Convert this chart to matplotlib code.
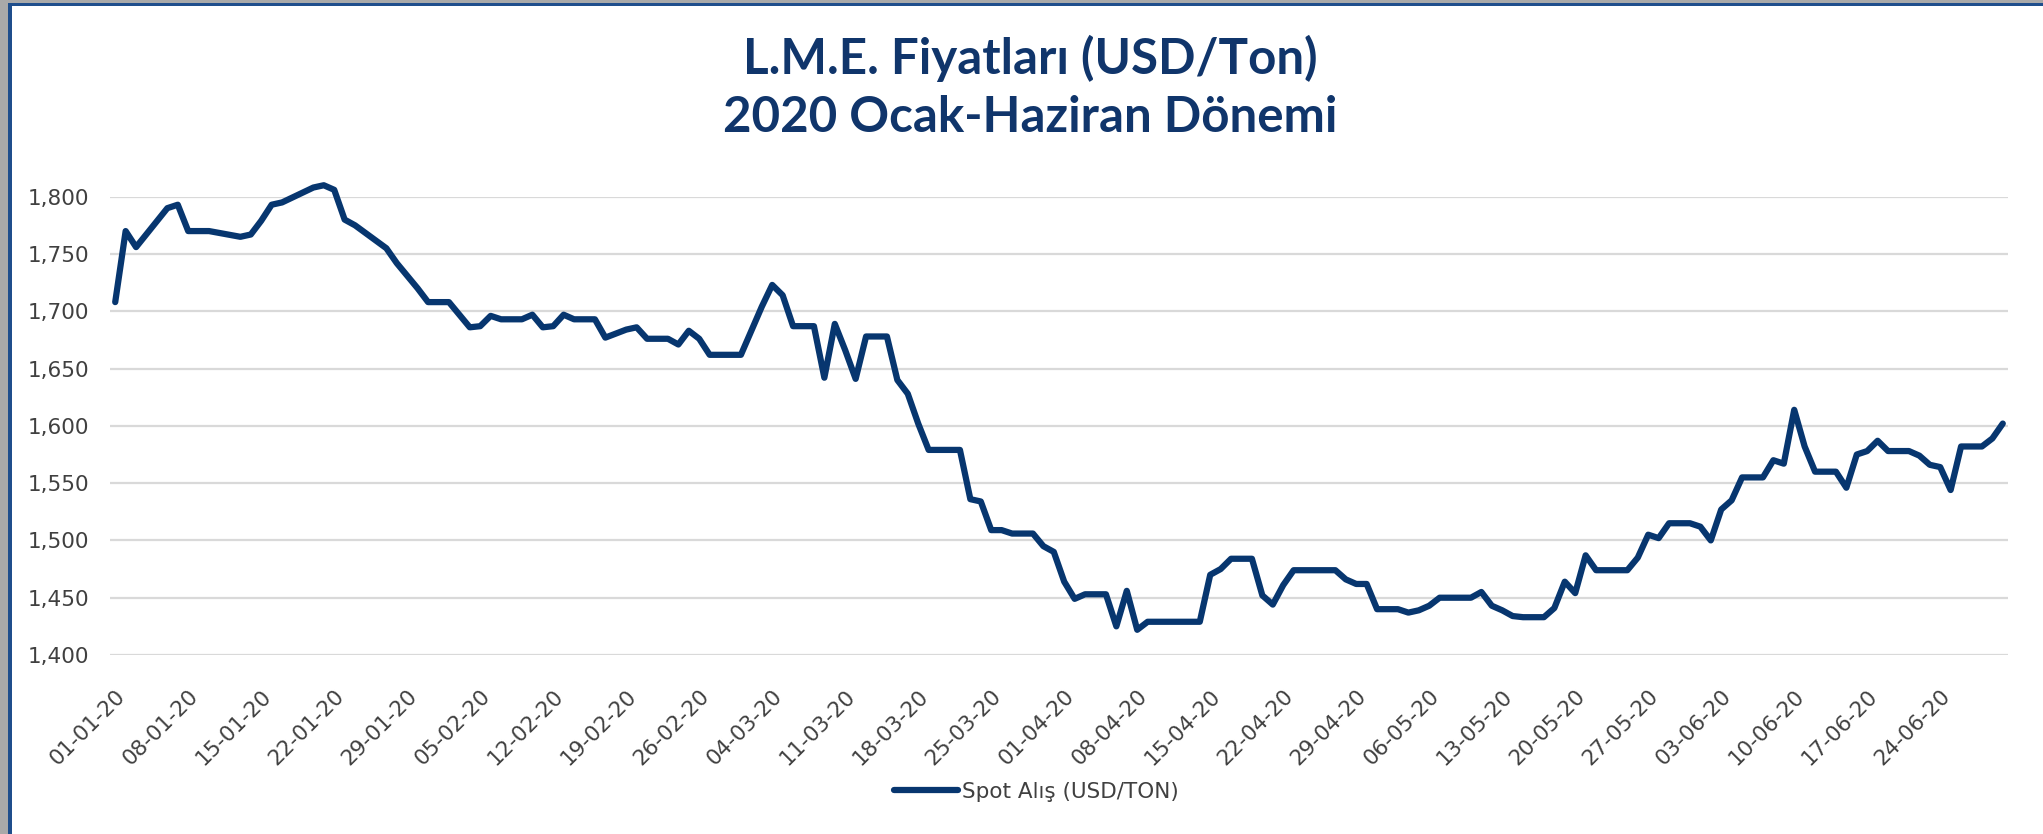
import matplotlib
matplotlib.use("Agg")
import matplotlib.pyplot as plt
import matplotlib.dates as mdates
from matplotlib.patches import Rectangle
import pandas as pd

# ---- data ----
dates = [
    "2020-01-01", "2020-01-02", "2020-01-03", "2020-01-06", "2020-01-07", "2020-01-08",
    "2020-01-10", "2020-01-13", "2020-01-14", "2020-01-15", "2020-01-16", "2020-01-17",
    "2020-01-20", "2020-01-21", "2020-01-22", "2020-01-23", "2020-01-24", "2020-01-27",
    "2020-01-28", "2020-01-29", "2020-01-30", "2020-01-31",
    "2020-02-02", "2020-02-04", "2020-02-05", "2020-02-06", "2020-02-07", "2020-02-09",
    "2020-02-10", "2020-02-11", "2020-02-12", "2020-02-13", "2020-02-14", "2020-02-16",
    "2020-02-17", "2020-02-19", "2020-02-20", "2020-02-21", "2020-02-23", "2020-02-24",
    "2020-02-25", "2020-02-26", "2020-02-27",
    "2020-03-01", "2020-03-03", "2020-03-04", "2020-03-05", "2020-03-06", "2020-03-08",
    "2020-03-09", "2020-03-10", "2020-03-11", "2020-03-12", "2020-03-13", "2020-03-15",
    "2020-03-16", "2020-03-17", "2020-03-18", "2020-03-19", "2020-03-22", "2020-03-23",
    "2020-03-24", "2020-03-25", "2020-03-26", "2020-03-27", "2020-03-29", "2020-03-30",
    "2020-03-31",
    "2020-04-01", "2020-04-02", "2020-04-03", "2020-04-05", "2020-04-06", "2020-04-07",
    "2020-04-08", "2020-04-09", "2020-04-14", "2020-04-15", "2020-04-16", "2020-04-17",
    "2020-04-19", "2020-04-20", "2020-04-21", "2020-04-22", "2020-04-23", "2020-04-25",
    "2020-04-27", "2020-04-28", "2020-04-29", "2020-04-30",
    "2020-05-01", "2020-05-03", "2020-05-04", "2020-05-05", "2020-05-06", "2020-05-07",
    "2020-05-10", "2020-05-11", "2020-05-12", "2020-05-13", "2020-05-14", "2020-05-15",
    "2020-05-17", "2020-05-18", "2020-05-19", "2020-05-20", "2020-05-21", "2020-05-22",
    "2020-05-25", "2020-05-26", "2020-05-27", "2020-05-28", "2020-05-29", "2020-05-31",
    "2020-06-01", "2020-06-02", "2020-06-03", "2020-06-04", "2020-06-05", "2020-06-07",
    "2020-06-08", "2020-06-09", "2020-06-10", "2020-06-11", "2020-06-12", "2020-06-14",
    "2020-06-15", "2020-06-16", "2020-06-17", "2020-06-18", "2020-06-19", "2020-06-21",
    "2020-06-22", "2020-06-23", "2020-06-24", "2020-06-25", "2020-06-26", "2020-06-28",
    "2020-06-29", "2020-06-30",
]
spot_alis = [
    1708, 1770, 1756, 1790, 1793, 1770,
    1770, 1765, 1767, 1779, 1793, 1795,
    1808, 1810, 1806, 1780, 1775, 1755,
    1742, 1731, 1720, 1708,
    1708, 1686, 1687, 1696, 1693, 1693,
    1697, 1686, 1687, 1697, 1693, 1693,
    1677, 1684, 1686, 1676, 1676, 1671,
    1683, 1676, 1662,
    1662, 1704, 1723, 1714, 1687, 1687,
    1642, 1689, 1666, 1641, 1678, 1678,
    1640, 1628, 1602, 1579, 1579, 1536,
    1534, 1509, 1509, 1506, 1506, 1495,
    1490,
    1464, 1449, 1453, 1453, 1425, 1456,
    1422, 1429, 1429, 1470, 1475, 1484,
    1484, 1452, 1444, 1461, 1474, 1474,
    1474, 1466, 1462, 1462,
    1440, 1440, 1437, 1439, 1443, 1450,
    1450, 1455, 1443, 1439, 1434, 1433,
    1433, 1441, 1464, 1454, 1487, 1474,
    1474, 1485, 1505, 1502, 1515, 1515,
    1512, 1500, 1527, 1535, 1555, 1555,
    1570, 1567, 1614, 1582, 1560, 1560,
    1546, 1575, 1578, 1587, 1578, 1578,
    1574, 1566, 1564, 1544, 1582, 1582,
    1589, 1602,
]
y_ticks = [1400, 1450, 1500, 1550, 1600, 1650, 1700, 1750, 1800]
title_lines = ["L.M.E. Fiyatları (USD/Ton)", "2020 Ocak-Haziran Dönemi"]
series_name = "Spot Alış (USD/TON)"

# ---- figure ----
W, H = 2043, 834
fig = plt.figure(figsize=(W / 100, H / 100), dpi=100)
fig.patch.set_facecolor("white")

navy = "#07366F"
title_col = "#10356B"
txt_col = "#404040"

# frame decorations (grey margin + navy border at left / top)
fig.add_artist(Rectangle((0, 0), 8 / W, 1, transform=fig.transFigure,
                         facecolor="#A9A9A9", edgecolor="none"))
fig.add_artist(Rectangle((0, 1 - 3 / H), 1, 3 / H, transform=fig.transFigure,
                         facecolor="#A9A9A9", edgecolor="none"))
fig.add_artist(Rectangle((8 / W, 0), 4 / W, 1 - 3 / H, transform=fig.transFigure,
                         facecolor="#1F4E8C", edgecolor="none"))
fig.add_artist(Rectangle((8 / W, 1 - 6 / H), 1 - 8 / W, 3 / H, transform=fig.transFigure,
                         facecolor="#1F4E8C", edgecolor="none"))

ax = fig.add_axes([110 / W, 1 - 655 / H, (2008 - 110) / W, (655 - 196.7) / H])
x = pd.to_datetime(dates)
ax.plot(x, spot_alis, color=navy, lw=4.5, solid_joinstyle="round",
        solid_capstyle="round", clip_on=False, zorder=3, label=series_name)

start = pd.Timestamp("2020-01-01")
end = pd.Timestamp("2020-06-30")
ax.set_xlim(start - pd.Timedelta(hours=12), end + pd.Timedelta(hours=12))
ax.set_ylim(1400, 1800)
ax.set_yticks(y_ticks)
ax.yaxis.set_major_formatter(matplotlib.ticker.FuncFormatter(lambda v, p: f"{int(v):,}"))
xt = pd.date_range(start, end, freq="7D")
ax.set_xticks(xt)
ax.xaxis.set_major_formatter(mdates.DateFormatter("%d-%m-%y"))

ax.grid(axis="y", color="#D9D9D9", lw=1.6)
ax.set_axisbelow(True)
for s in ax.spines.values():
    s.set_visible(False)
ax.tick_params(axis="both", length=0, labelsize=15.5, labelcolor=txt_col)
ax.tick_params(axis="y", pad=15)
ax.tick_params(axis="x", pad=22)
for lab in ax.get_xticklabels():
    lab.set_rotation(45)
    lab.set_ha("right")
    lab.set_rotation_mode("anchor")

fig.text(1030 / W, 1 - 58 / H, title_lines[0], ha="center", va="center",
         fontsize=35.5, fontweight="bold", color=title_col, family="Lato")
fig.text(1030 / W, 1 - 118 / H, title_lines[1], ha="center", va="center",
         fontsize=35.5, fontweight="bold", color=title_col, family="Lato")

leg = fig.legend(loc="center", bbox_to_anchor=(1036 / W, 1 - 792 / H), frameon=False,
                 fontsize=15.5, handlelength=3.0, handletextpad=0.15)
for t in leg.get_texts():
    t.set_color(txt_col)

fig.savefig("out.png", dpi=100, facecolor="white")
